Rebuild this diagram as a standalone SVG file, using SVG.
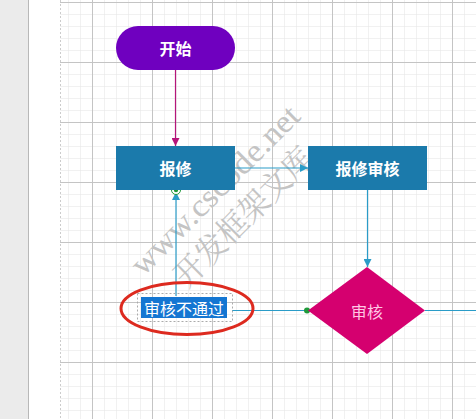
<svg xmlns="http://www.w3.org/2000/svg" width="476" height="419" viewBox="0 0 476 419">
<defs>
<pattern id="minor" x="8" y="2" width="12" height="12" patternUnits="userSpaceOnUse">
<path d="M0 0H12M0 0V12" fill="none" stroke="#e3e3e3" stroke-width="1"/>
</pattern>
<pattern id="major" x="32" y="2" width="60" height="60" patternUnits="userSpaceOnUse">
<path d="M0 0.5H60M0.5 0V60" fill="none" stroke="#c4c4c4" stroke-width="1"/>
</pattern>
<marker id="arrB" viewBox="0 0 10 10" refX="10" refY="5" markerWidth="8" markerHeight="8" markerUnits="userSpaceOnUse" orient="auto">
<path d="M0 0L10 5L0 10z" fill="#2a9cc8"/>
</marker>
<marker id="arrM" viewBox="0 0 10 10" refX="10" refY="5" markerWidth="8" markerHeight="8" markerUnits="userSpaceOnUse" orient="auto">
<path d="M0 0L10 5L0 10z" fill="#b5157a"/>
</marker>
</defs>
<style>
.node text{font-family:"Noto Sans CJK SC","Liberation Sans",sans-serif;font-size:16px;text-anchor:middle;dominant-baseline:central}
.bold{font-weight:bold;fill:#fff}
.conn{fill:none;stroke:#2a9cc8;stroke-width:1.2}
.wm{font-family:"Liberation Serif","Noto Serif CJK SC","Noto Sans CJK SC",serif;fill:#c4c4c4;font-size:32px}
</style>
<rect x="0" y="0" width="476" height="419" fill="#ffffff"/>
<rect x="0" y="0" width="28" height="419" fill="#ebebeb"/>
<line x1="28.5" y1="0" x2="28.5" y2="419" stroke="#b8b8b8"/>
<rect x="60" y="0" width="416" height="419" fill="url(#minor)"/>
<rect x="60" y="0" width="416" height="419" fill="url(#major)"/>
<line x1="60.5" y1="0" x2="60.5" y2="419" stroke="#cccccc" stroke-dasharray="2 2"/>

<g id="watermark">
<text class="wm" x="143" y="277" transform="rotate(-45 143 277)" textLength="225" lengthAdjust="spacingAndGlyphs">www.cscode.net</text>
<text class="wm" x="187" y="289" transform="rotate(-45 187 289)" font-size="30" textLength="182" lengthAdjust="spacingAndGlyphs">开发框架文库</text>
</g>

<g id="connectors">
<line x1="175.5" y1="70" x2="175.5" y2="146" stroke="#b5157a" stroke-width="1.2" marker-end="url(#arrM)"/>
<line class="conn" x1="235" y1="168" x2="308" y2="168" marker-end="url(#arrB)"/>
<line class="conn" x1="367.5" y1="190" x2="367.5" y2="267" marker-end="url(#arrB)"/>
<line class="conn" x1="425" y1="310.5" x2="476" y2="310.5"/>
<polyline class="conn" points="307,310.5 232,310.5"/>
<line class="conn" x1="176" y1="296" x2="176" y2="192" marker-end="url(#arrB)"/>
<circle cx="307" cy="310.5" r="3" fill="#1f9a3a"/>
<circle cx="176" cy="190" r="4.5" fill="#ffffff" stroke="#1f9a3a" stroke-width="1"/>
<circle cx="176" cy="190" r="2.2" fill="#1f9a3a"/>
</g>

<g id="start" class="node">
<rect x="116" y="26" width="119" height="44" rx="22" fill="#6f00bf"/>
<text class="bold" x="175.5" y="48" font-size="17">开始</text>
</g>

<g id="baoxiu" class="node">
<rect x="116" y="146" width="119" height="44" fill="#1b7aab"/>
<text class="bold" x="175.5" y="168" font-size="17">报修</text>
</g>

<g id="baoxiushenhe" class="node">
<rect x="308" y="146" width="119" height="44" fill="#1b7aab"/>
<text class="bold" x="367.5" y="168" font-size="17">报修审核</text>
</g>

<g id="shenhe" class="node">
<polygon points="367,267 425,310.5 367,354 308,310.5" fill="#d5006f"/>
<text x="367" y="311" fill="#ffc6e4">审核</text>
</g>

<g id="label" class="node">
<rect x="137.5" y="293.5" width="95" height="28" fill="none" stroke="#aaaaaa" stroke-dasharray="2 2"/>
<rect x="141" y="297" width="86" height="21" fill="#1476d2"/>
<text x="184" y="307.5" fill="#ffffff" font-size="17">审核不通过</text>
</g>

<ellipse cx="187" cy="308.5" rx="66" ry="26" fill="none" stroke="#dd2a1f" stroke-width="3"/>
</svg>
